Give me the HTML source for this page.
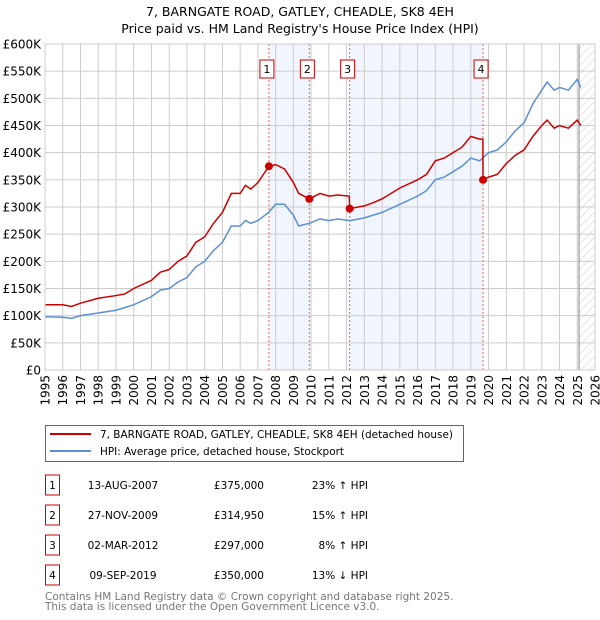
<!DOCTYPE html>
<html><head><meta charset="utf-8"><style>
body{margin:0;background:#fff;font-family:"DejaVu Sans","Liberation Sans",sans-serif;}
#wrap{position:relative;width:600px;height:620px;overflow:hidden}
svg text{font-family:"DejaVu Sans","Liberation Sans",sans-serif}
</style></head><body>
<div id="wrap">
<svg id="chart" width="600" height="620"></svg>
</div>
<script>
const hpiYears=[1995,1996,1996.5,1997,1998,1999,1999.5,2000,2001,2001.5,2002,2002.5,2003,2003.5,2004,2004.5,2005,2005.5,2006,2006.3,2006.6,2007,2007.6,2008,2008.5,2009,2009.3,2009.9,2010.5,2011,2011.5,2012.2,2013,2013.5,2014,2015,2016,2016.5,2017,2017.5,2018,2018.5,2019,2019.5,2020,2020.5,2021,2021.5,2022,2022.5,2023,2023.3,2023.7,2024,2024.5,2025,2025.2];
const hpiValues=[98,97,95,100,105,110,115,120,135,147,150,162,170,190,200,220,235,265,265,275,270,275,290,305,305,285,265,270,278,275,278,275,280,285,290,305,320,330,350,355,365,375,390,385,400,405,420,440,455,490,515,530,515,520,515,535,520];
const priceYears=[1995,1996,1996.5,1997,1998,1999,1999.5,2000,2001,2001.5,2002,2002.5,2003,2003.5,2004,2004.5,2005,2005.5,2006,2006.3,2006.6,2007,2007.62,2008,2008.5,2009,2009.3,2009.9,2010.5,2011,2011.5,2012.15,2012.17,2013,2013.5,2014,2015,2016,2016.5,2017,2017.5,2018,2018.5,2019,2019.5,2019.68,2019.69,2020,2020.5,2021,2021.5,2022,2022.5,2023,2023.3,2023.7,2024,2024.5,2025,2025.2];
const priceValues=[120,120,117,123,132,137,140,150,165,180,185,200,210,235,245,270,290,325,325,340,333,345,375,378,370,345,325,315,325,320,322,320,297,302,308,315,335,350,360,385,390,400,410,430,425,425,350,355,360,380,395,405,430,450,460,445,450,445,460,450];
const saleLabels=["1","2","3","4"];
const saleYears=[2007.62,2009.9,2012.17,2019.69];
const saleValues=[375,314.95,297,350];
const saleDates=["13-AUG-2007","27-NOV-2009","02-MAR-2012","09-SEP-2019"];
const salePrices=["£375,000","£314,950","£297,000","£350,000"];
const saleDiffs=["23% \u2191 HPI","15% \u2191 HPI","8% \u2191 HPI","13% \u2193 HPI"];
const yTicks=[0,50,100,150,200,250,300,350,400,450,500,550,600];
const xTicks=[1995,1996,1997,1998,1999,2000,2001,2002,2003,2004,2005,2006,2007,2008,2009,2010,2011,2012,2013,2014,2015,2016,2017,2018,2019,2020,2021,2022,2023,2024,2025,2026];

const L=45,R=595,T=44,B=370;
const X=y=>L+(y-1995)/(2026-1995)*(R-L);
const Y=v=>B-v/600*(B-T);
const svg=document.getElementById('chart');
const NS='http://www.w3.org/2000/svg';
function mk(tag,attrs,parent){const e=document.createElementNS(NS,tag);for(const k in attrs)e.setAttribute(k,attrs[k]);(parent||svg).appendChild(e);return e;}

let t=mk('text',{x:300,y:16,'text-anchor':'middle','font-size':'12.5',fill:'#000'});t.textContent='7, BARNGATE ROAD, GATLEY, CHEADLE, SK8 4EH';


t=mk('text',{x:300,y:33,'text-anchor':'middle','font-size':'12.5',fill:'#000'});t.textContent="Price paid vs. HM Land Registry's House Price Index (HPI)";



const defs=mk('defs',{});
const pat=mk('pattern',{id:'hatch',width:6,height:6,patternUnits:'userSpaceOnUse',patternTransform:'rotate(45)'},defs);
mk('line',{x1:0,y1:0,x2:0,y2:6,stroke:'#ccc','stroke-width':1},pat);
let s=mk('rect',{x:X(saleYears[0]),y:T,width:X(saleYears[1])-X(saleYears[0]),height:B-T,fill:'#eef3fc',opacity:0.8});


s=mk('rect',{x:X(saleYears[2]),y:T,width:X(saleYears[3])-X(saleYears[2]),height:B-T,fill:'#eef3fc',opacity:0.8});


s=mk('rect',{x:X(2025.1),y:T,width:R-X(2025.1),height:B-T,fill:'url(#hatch)'});



yTicks.forEach(v=>{
  const g=mk('line',{x1:L,x2:R,y1:Y(v),y2:Y(v),stroke:'#ccc','stroke-width':1});
  
  
  const tx=mk('text',{x:L-4,y:Y(v)+4.5,'text-anchor':'end','font-size':'12',fill:'#000'});
  tx.textContent=v===0?'£0':'£'+v+'K';
  
  
});
xTicks.forEach(y=>{
  const g=mk('line',{x1:X(y),x2:X(y),y1:T,y2:B,stroke:'#ccc','stroke-width':1});
  
  
  const tx=mk('text',{x:0,y:0,'text-anchor':'end','font-size':'12',fill:'#000',transform:`translate(${X(y)+4.5},${B+5}) rotate(-90)`});
  tx.textContent=y;
  
  
});
let ed=mk('line',{x1:X(2025.1),x2:X(2025.1),y1:T,y2:B,stroke:'#888','stroke-width':1});



saleYears.forEach((y,i)=>{
  const l=mk('line',{x1:X(y),x2:X(y),y1:T,y2:B,stroke:'#f06060','stroke-width':1,'stroke-dasharray':'2,2'});
  
  
});

let hp=mk('polyline',{points:hpiYears.map((y,i)=>X(y)+','+Y(hpiValues[i])).join(' '),fill:'none',stroke:'#5b8fd6','stroke-width':1.5});


let pp=mk('polyline',{points:priceYears.map((y,i)=>X(y)+','+Y(priceValues[i])).join(' '),fill:'none',stroke:'#cc0000','stroke-width':1.5});



saleYears.forEach((y,i)=>{
  const c=mk('circle',{cx:X(y),cy:Y(saleValues[i]),r:4,fill:'#cc0000'});
  
  
  const bx=X(y)-8;
  const r=mk('rect',{x:bx-1,y:60,width:14,height:18,fill:'#fff',stroke:'#cc0000','stroke-width':1});
  
  
  const tx=mk('text',{x:bx+6,y:73,'text-anchor':'middle','font-size':'11',fill:'#000'});
  tx.textContent=saleLabels[i];
  
  
});
let fr=mk('rect',{x:L,y:T,width:R-L,height:B-T,fill:'none',stroke:'#ccc','stroke-width':1});



const lg=mk('g',{});


mk('rect',{x:45.5,y:425.5,width:418,height:36,fill:'#fff',stroke:'#666','stroke-width':1},lg);
mk('line',{x1:50,x2:91,y1:434,y2:434,stroke:'#cc0000','stroke-width':2},lg);
mk('line',{x1:50,x2:91,y1:451,y2:451,stroke:'#5b8fd6','stroke-width':2},lg);
t=mk('text',{x:100,y:438,'font-size':'10.5',fill:'#000',textLength:353,lengthAdjust:'spacingAndGlyphs'},lg);t.textContent='7, BARNGATE ROAD, GATLEY, CHEADLE, SK8 4EH (detached house)';


t=mk('text',{x:100,y:455,'font-size':'10.5',fill:'#000',textLength:244,lengthAdjust:'spacingAndGlyphs'},lg);t.textContent='HPI: Average price, detached house, Stockport';



saleLabels.forEach((lab,i)=>{
  const cy=487+i*30;
  const r=mk('rect',{x:45.5,y:cy-12,width:14,height:20,fill:'#fff',stroke:'#cc0000','stroke-width':1});
  
  
  const cells=[[52.5,lab,'middle'],[123,saleDates[i],'middle'],[264,salePrices[i],'end'],[368,saleDiffs[i],'end']];
  cells.forEach(c=>{
    const tx=mk('text',{x:c[0],y:cy+2,'text-anchor':c[2],'font-size':'10.5',fill:'#000'});
    tx.textContent=c[1];
    
    
  });
});
t=mk('text',{x:45,y:600,'font-size':'10.5',fill:'#777'});t.textContent='Contains HM Land Registry data \u00a9 Crown copyright and database right 2025.';


t=mk('text',{x:45,y:610,'font-size':'10.5',fill:'#777'});t.textContent='This data is licensed under the Open Government Licence v3.0.';


</script>
</body></html>
